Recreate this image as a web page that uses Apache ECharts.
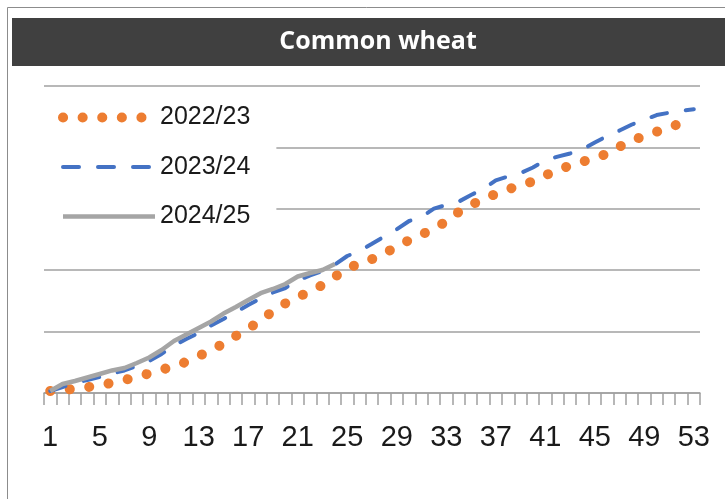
<!DOCTYPE html>
<html>
<head>
<meta charset="utf-8">
<script src="https://cdn.jsdelivr.net/npm/echarts@6/dist/echarts.min.js"></script>
<style>
  html, body { margin: 0; padding: 0; background: #fff; }
  #chart { width: 725px; height: 499px; }
</style>
</head>
<body>
<div id="chart"></div>
<script>
// marketing year weeks
var weeks = [];
for (var w = 1; w <= 53; w++) weeks.push(String(w));

// cumulative quantities (Mt)
var y2223 = [0.23, 0.34, 0.49, 0.66, 0.89, 1.16, 1.48, 1.84, 2.23, 2.65,
             3.08, 3.55, 4.21, 4.90, 5.62, 6.51, 7.34, 8.25, 9.35, 10.22,
             10.93, 11.59, 12.31, 13.26, 14.14, 14.82, 15.27, 15.92, 16.68, 17.43,
             18.02, 18.85, 19.50, 20.64, 21.45, 22.10, 22.70, 23.22, 23.71, 24.12,
             24.80, 25.44, 25.93, 26.37, 26.82, 27.27, 28.09, 28.79, 29.30, 29.79,
             30.28, 30.77, 31.24];
var y2324 = [0.23, 0.68, 1.14, 1.48, 1.82, 2.22, 2.57, 3.08, 3.65, 4.45,
             5.42, 6.16, 6.84, 7.70, 8.44, 9.23, 10.03, 10.77, 11.46, 11.97,
             12.83, 13.40, 13.91, 14.65, 15.62, 16.19, 17.01, 17.85, 18.66, 19.61,
             20.07, 21.02, 21.43, 21.81, 22.57, 23.26, 24.25, 24.68, 25.08, 25.71,
             26.51, 26.95, 27.31, 27.76, 28.56, 29.30, 29.93, 30.61, 31.15, 31.69,
             31.95, 32.18, 32.34];
var y2425 = [0.23, 1.03, 1.37, 1.77, 2.17, 2.57, 2.85, 3.42, 4.05, 4.90,
             5.93, 6.67, 7.41, 8.15, 9.06, 9.80, 10.60, 11.38, 11.86, 12.43,
             13.28, 13.68, 14.02, 14.71];

var chart = echarts.init(document.getElementById('chart'));

var option = {
    animation: false,
    backgroundColor: '#fff',
    graphic: [
        { type: 'line', shape: { x1: 7.5, y1: 7.5, x2: 725, y2: 7.5 }, style: { stroke: '#8c8c8c', lineWidth: 1 } },
        { type: 'line', shape: { x1: 7.5, y1: 7.5, x2: 7.5, y2: 499 }, style: { stroke: '#8c8c8c', lineWidth: 1 } },
        { type: 'rect', z: -1, shape: { x: 12, y: 18, width: 713, height: 48 }, style: { fill: '#404040' } }
    ],
    title: {
        text: 'Common wheat',
        left: 373,
        top: 24,
        textAlign: 'center',
        textStyle: {
            color: '#fff',
            fontFamily: 'Open Sans',
            fontWeight: 'bold',
            fontSize: 25
        }
    },
    legend: {
        orient: 'vertical',
        left: 44,
        top: 93,
        padding: [12, 26, 12, 14],
        backgroundColor: '#fff',
        itemWidth: 92,
        itemHeight: 14,
        itemGap: 24.5,
        itemTextGap: 12,
        itemStyle: { opacity: 0 },
        lineStyle: { width: 'inherit' },
        textStyle: {
            fontFamily: 'Liberation Sans',
            fontSize: 25,
            lineHeight: 25,
            color: '#1a1a1a'
        },
        data: ['2022/23', '2023/24', '2024/25']
    },
    grid: {
        left: 44,
        right: 25,
        top: 86,
        bottom: 106
    },
    xAxis: {
        type: 'category',
        data: weeks,
        boundaryGap: true,
        axisLine: { lineStyle: { color: '#a0a0a0', width: 1.5 } },
        axisTick: { show: true, interval: 0, length: 12, lineStyle: { color: '#a0a0a0', width: 1.5 } },
        axisLabel: {
            interval: 3,
            margin: 30,
            fontFamily: 'Liberation Sans',
            fontSize: 29,
            color: '#1a1a1a'
        }
    },
    yAxis: {
        type: 'value',
        min: 0,
        max: 35,
        interval: 7,
        axisLine: { show: false },
        axisTick: { show: false },
        axisLabel: { show: false },
        splitLine: { lineStyle: { color: '#a0a0a0', width: 1.5 } }
    },
    series: [
        {
            name: '2022/23',
            type: 'line',
            data: y2223,
            symbol: 'none',
            color: '#ed7d31',
            lineStyle: { color: '#ed7d31', width: 10, type: [0.1, 19.5], cap: 'round' }
        },
        {
            name: '2023/24',
            type: 'line',
            data: y2324,
            symbol: 'none',
            color: '#4472c4',
            lineStyle: { color: '#4472c4', width: 4, type: [16, 19], cap: 'round' }
        },
        {
            name: '2024/25',
            type: 'line',
            data: y2425,
            symbol: 'none',
            color: '#a5a5a5',
            lineStyle: { color: '#a5a5a5', width: 4.5 }
        }
    ]
};

chart.setOption(option);
</script>
</body>
</html>
